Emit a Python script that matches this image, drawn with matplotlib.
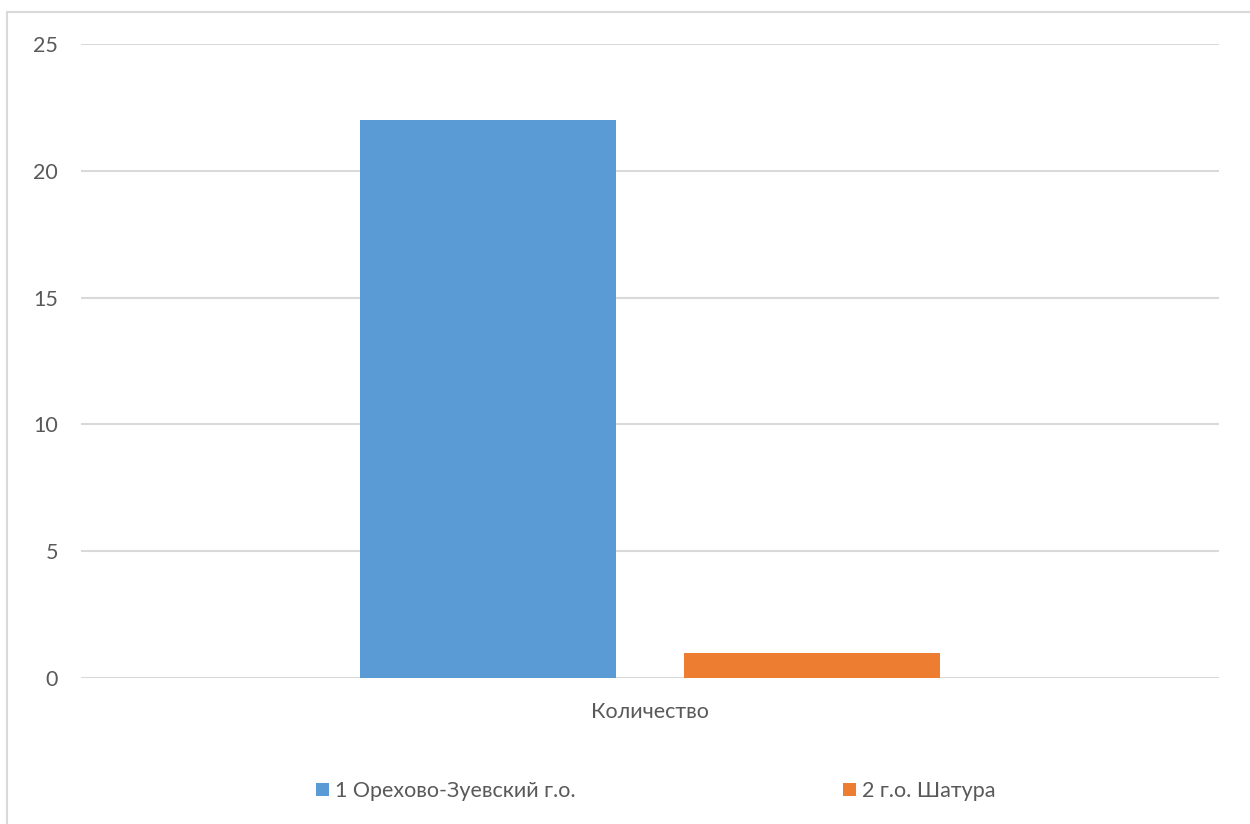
import numpy as np
import matplotlib.pyplot as plt
from matplotlib.patches import Rectangle

# chart data
categories = ["Количество"]
series_names = ["1 Орехово-Зуевский г.о.", "2 г.о. Шатура"]
series_values = [[22], [1]]
series_colors = ["#5b9bd5", "#ed7d31"]
y_ticks = [0, 5, 10, 15, 20, 25]

plt.rcParams['font.family'] = ['Lato', 'DejaVu Sans']

fig = plt.figure(figsize=(12.5, 8.24), dpi=100)
ax = fig.add_axes([81/1250, 1-678/824, (1219-81)/1250, (678-44)/824])

# light frame around chart area
fig.patches.append(Rectangle((7/1250, -0.05), 1.2, 1-12/824+0.05, transform=fig.transFigure,
                             fill=False, edgecolor="#d9d9d9", linewidth=1.5))

x = np.arange(len(categories))
width = 0.225
offsets = [-0.1424, 0.1424]
for name, vals, col, off in zip(series_names, series_values, series_colors, offsets):
    ax.bar(x + off, vals, width, color=col, label=name, zorder=3)

ax.set_xlim(-0.5, 0.5)
ax.set_ylim(0, 25)
ax.set_yticks(y_ticks)
ax.set_xticks(x)
ax.set_xticklabels(categories)
ax.grid(axis='y', color='#d9d9d9', linewidth=1.5, zorder=0)
for s in ax.spines.values():
    s.set_visible(False)
ax.tick_params(axis='both', length=0, labelsize=15.5, labelcolor='#595959')
ax.tick_params(axis='y', pad=16.5)
ax.tick_params(axis='x', pad=17)

fig.legend(loc='center', bbox_to_anchor=(656/1250, 1-791/824), ncol=2, frameon=False,
           fontsize=15.5, labelcolor='#595959', handlelength=0.6, handleheight=0.6,
           handletextpad=0.3, columnspacing=12.4)

fig.savefig("out.png", dpi=100)
